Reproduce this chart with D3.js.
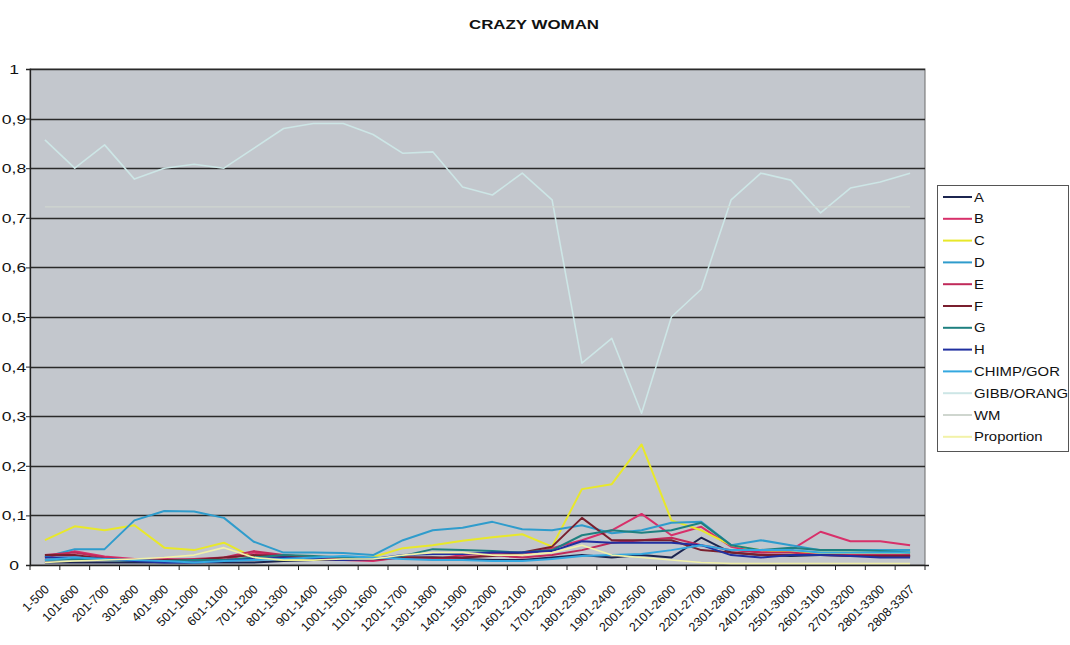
<!DOCTYPE html>
<html>
<head>
<meta charset="utf-8">
<script src="https://cdn.jsdelivr.net/npm/d3@7"></script>
<style>
  html, body { margin: 0; padding: 0; background: #ffffff; }
  svg { display: block; font-family: Arial, "Liberation Sans", sans-serif; }
</style>
</head>
<body>
<svg id="chart" width="1070" height="645"></svg>
<script>
const categories = ["1-500","101-600","201-700","301-800","401-900","501-1000","601-1100","701-1200","801-1300","901-1400","1001-1500","1101-1600","1201-1700","1301-1800","1401-1900","1501-2000","1601-2100","1701-2200","1801-2300","1901-2400","2001-2500","2101-2600","2201-2700","2301-2800","2401-2900","2501-3000","2601-3100","2701-3200","2801-3300","2808-3307"];

const seriesNames = ["A","B","C","D","E","F","G","H","CHIMP/GOR","GIBB/ORANG","WM","Proportion"];
const seriesColors = ["#1c2550","#d8306a","#e8e82a","#2f9ccc","#c02a5a","#7a1f2e","#1f8080","#2030a0","#34a8e0","#cde6e6","#cfd6cf","#f2f2a8"];

const valsA = [0.005,0.005,0.005,0.005,0.005,0.005,0.005,0.005,0.008,0.010,0.010,0.012,0.015,0.015,0.012,0.010,0.010,0.015,0.020,0.015,0.020,0.015,0.055,0.025,0.020,0.018,0.020,0.020,0.018,0.018];
const valsB = [0.015,0.028,0.017,0.012,0.012,0.010,0.010,0.025,0.018,0.015,0.010,0.008,0.016,0.011,0.020,0.024,0.020,0.034,0.050,0.070,0.103,0.060,0.077,0.037,0.025,0.030,0.067,0.048,0.048,0.040];
const valsC = [0.050,0.078,0.070,0.080,0.035,0.030,0.045,0.015,0.010,0.010,0.015,0.016,0.034,0.040,0.049,0.056,0.062,0.037,0.153,0.163,0.243,0.090,0.070,0.040,0.030,0.025,0.025,0.025,0.025,0.025];
const valsD = [0.016,0.032,0.032,0.090,0.109,0.108,0.095,0.047,0.025,0.025,0.024,0.020,0.050,0.070,0.075,0.087,0.072,0.070,0.080,0.064,0.070,0.085,0.087,0.040,0.050,0.040,0.030,0.030,0.030,0.030];
const valsE = [0.020,0.025,0.015,0.010,0.010,0.012,0.015,0.028,0.020,0.015,0.012,0.010,0.015,0.012,0.015,0.020,0.015,0.020,0.030,0.045,0.050,0.055,0.040,0.030,0.025,0.025,0.020,0.020,0.020,0.020];
const valsF = [0.020,0.020,0.012,0.008,0.010,0.010,0.015,0.020,0.018,0.012,0.010,0.012,0.015,0.015,0.015,0.018,0.025,0.037,0.095,0.050,0.050,0.050,0.030,0.025,0.020,0.020,0.020,0.018,0.018,0.018];
const valsG = [0.010,0.012,0.010,0.008,0.008,0.010,0.010,0.015,0.020,0.018,0.015,0.012,0.018,0.032,0.030,0.028,0.025,0.030,0.060,0.070,0.065,0.070,0.085,0.040,0.030,0.035,0.030,0.030,0.028,0.025];
const valsH = [0.015,0.015,0.012,0.008,0.005,0.005,0.008,0.012,0.015,0.012,0.010,0.012,0.020,0.022,0.022,0.025,0.025,0.028,0.048,0.045,0.045,0.045,0.040,0.020,0.015,0.020,0.020,0.018,0.015,0.015];
const valsChimp = [0.010,0.015,0.012,0.010,0.008,0.005,0.008,0.010,0.012,0.015,0.018,0.015,0.012,0.010,0.010,0.008,0.008,0.012,0.018,0.020,0.022,0.030,0.040,0.030,0.030,0.030,0.025,0.025,0.025,0.025];
const valsGibb = [0.857,0.800,0.847,0.778,0.800,0.808,0.800,0.840,0.880,0.890,0.890,0.868,0.830,0.833,0.762,0.746,0.790,0.736,0.407,0.457,0.306,0.500,0.556,0.736,0.790,0.776,0.710,0.760,0.772,0.790];
const valsWM = [0.722,0.722,0.722,0.722,0.722,0.722,0.722,0.722,0.722,0.722,0.722,0.722,0.722,0.722,0.722,0.722,0.722,0.722,0.722,0.722,0.722,0.722,0.722,0.722,0.722,0.722,0.722,0.722,0.722,0.722];
const valsProp = [0.005,0.008,0.010,0.012,0.015,0.020,0.035,0.015,0.010,0.010,0.012,0.012,0.020,0.025,0.025,0.020,0.020,0.025,0.040,0.020,0.015,0.010,0.005,0.003,0.003,0.003,0.003,0.003,0.003,0.003];

const yTicks = [0,0.1,0.2,0.3,0.4,0.5,0.6,0.7,0.8,0.9,1];
const yTickLabels = ["0","0,1","0,2","0,3","0,4","0,5","0,6","0,7","0,8","0,9","1"];
const title = "CRAZY WOMAN";

const seriesValues = [valsA,valsB,valsC,valsD,valsE,valsF,valsG,valsH,valsChimp,valsGibb,valsWM,valsProp];
const series = seriesNames.map((n,i)=>({name:n,color:seriesColors[i],values:seriesValues[i]}));

const svg = d3.select("#chart");
const plot = {left:30, right:925, top:69, bottom:565};
const FONT = "Arial, 'Liberation Sans', sans-serif";

const x = d3.scaleBand().domain(categories).range([plot.left, plot.right]).padding(0);
const y = d3.scaleLinear().domain([0,1]).range([plot.bottom, plot.top]);

// title (scan is horizontally widened; emulate with scale)
svg.append("text").attr("transform","translate(534,29) scale(1.3,1)").attr("text-anchor","middle")
  .attr("font-size",13).attr("font-weight","bold").attr("fill","#111")
  .attr("font-family",FONT).text(title);

// plot background
svg.append("rect").attr("x",plot.left).attr("y",plot.top)
  .attr("width",plot.right-plot.left).attr("height",plot.bottom-plot.top)
  .attr("fill","#c3c7cd").attr("stroke","#6a6a6a").attr("stroke-width",1);

// gridlines
svg.append("g").selectAll("line").data(yTicks.slice(1)).join("line")
  .attr("x1",plot.left).attr("x2",plot.right)
  .attr("y1",d=>Math.round(y(d))+0.5).attr("y2",d=>Math.round(y(d))+0.5)
  .attr("stroke","#2a2a2a").attr("stroke-width",1.3);

// y axis
const yAxis = d3.axisLeft(y).tickValues(yTicks).tickSize(4).tickFormat("");
const gy = svg.append("g").attr("transform",`translate(${plot.left},0)`).call(yAxis);
gy.select(".domain").attr("stroke","#222").attr("stroke-width",1.3);
gy.selectAll(".tick line").attr("stroke","#222");
svg.append("g").selectAll("text").data(yTicks).join("text")
  .attr("transform",d=>`translate(14,${y(d)+5}) scale(1.3,1)`)
  .attr("text-anchor","middle").attr("font-size",13.5).attr("fill","#111")
  .attr("font-family",FONT).text((d,i)=>yTickLabels[i]);

// x axis
const gx = svg.append("g").attr("transform",`translate(0,${plot.bottom})`);
gx.append("line").attr("x1",plot.left).attr("x2",plot.right+4).attr("y1",0.5).attr("y2",0.5)
  .attr("stroke","#222").attr("stroke-width",1.3);
const bounds = categories.map(c=>x(c)).concat([plot.right]);
gx.selectAll("line.tk").data(bounds).join("line").attr("class","tk")
  .attr("x1",d=>d).attr("x2",d=>d).attr("y1",0).attr("y2",5)
  .attr("stroke","#222");
gx.selectAll("text").data(categories).join("text")
  .attr("transform",d=>`translate(${x(d)+x.bandwidth()/2+5},${25}) rotate(-45)`)
  .attr("text-anchor","end").attr("font-size",12.5).attr("fill","#111")
  .attr("font-family",FONT)
  .text(d=>d);

// lines
const line = d3.line().x((d,i)=>x(categories[i])+x.bandwidth()/2).y(d=>y(d));
svg.append("g").selectAll("path").data(series).join("path")
  .attr("d",d=>line(d.values)).attr("fill","none")
  .attr("stroke",d=>d.color)
  .attr("stroke-width",d=>d.name==="WM"?1.2:((d.name==="GIBB/ORANG"||d.name==="Proportion")?1.6:2))
  .attr("stroke-linejoin","round");

// legend
const lg = svg.append("g").attr("transform","translate(937,185)");
lg.append("rect").attr("x",0.5).attr("y",0.5).attr("width",131).attr("height",266)
  .attr("fill","#ffffff").attr("stroke","#555");
const items = lg.selectAll("g.item").data(series).join("g").attr("class","item")
  .attr("transform",(d,i)=>`translate(0,${12+i*21.8})`);
items.append("line").attr("x1",6).attr("x2",35).attr("y1",0).attr("y2",0)
  .attr("stroke",d=>d.color).attr("stroke-width",2);
items.append("text").attr("transform","translate(37,4.5) scale(1.24,1)")
  .attr("font-size",12).attr("fill","#111")
  .attr("font-family",FONT).text(d=>d.name);
</script>
</body>
</html>
